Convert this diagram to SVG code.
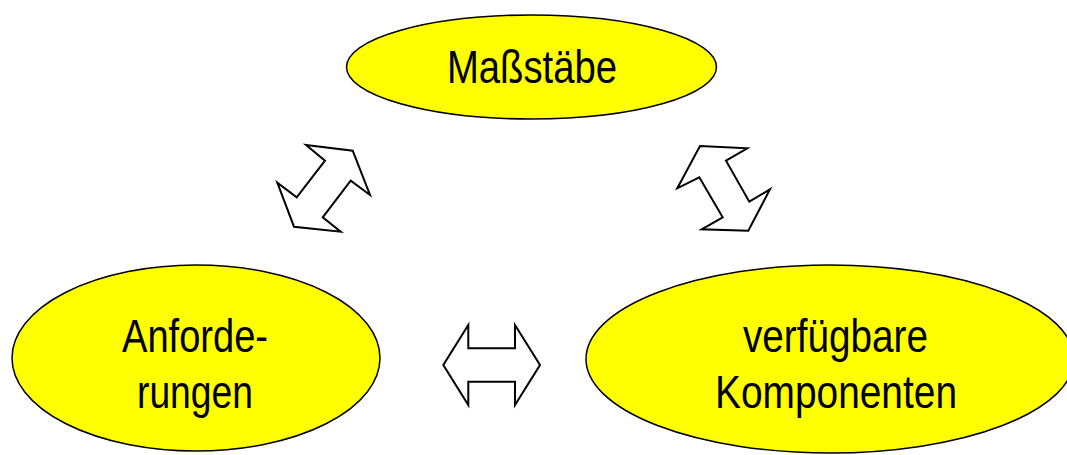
<svg xmlns="http://www.w3.org/2000/svg" width="1067" height="455" viewBox="0 0 1067 455">
<style>
.node{fill:#ffff00;stroke:#000;stroke-width:1.5}
.lbl{font-family:"Liberation Sans",Arial,sans-serif;font-size:46px;fill:#000;text-anchor:middle}
.arr{fill:#fff;stroke:#000;stroke-width:2;stroke-linejoin:miter}
</style>
<rect width="1067" height="455" fill="#fff"/>
<g id="masstaebe">
<ellipse class="node" cx="531.5" cy="67" rx="185" ry="52"/>
<text class="lbl" x="532" y="83" textLength="170" lengthAdjust="spacingAndGlyphs">Maßstäbe</text>
</g>
<g id="anforderungen">
<ellipse class="node" cx="196" cy="358" rx="184" ry="93"/>
<text class="lbl" x="195" y="352" textLength="146" lengthAdjust="spacingAndGlyphs">Anforde-</text>
<text class="lbl" x="195" y="408" textLength="116" lengthAdjust="spacingAndGlyphs">rungen</text>
</g>
<g id="komponenten">
<ellipse class="node" cx="830" cy="359" rx="244" ry="94"/>
<text class="lbl" x="835.5" y="352" textLength="185" lengthAdjust="spacingAndGlyphs">verfügbare</text>
<text class="lbl" x="836" y="408" textLength="242" lengthAdjust="spacingAndGlyphs">Komponenten</text>
</g>
<g id="connectors">
<polygon class="arr" points="306,145 352.7,150.7 370,195 350.7,180.7 322.7,217.3 340.7,231.7 294,226.7 277.3,182.7 296.7,197.3 325,160.7"/>
<polygon class="arr" points="700,146 747.3,148.3 726,160.7 749.3,201.7 770,189.3 748.3,230.7 701.7,229.3 722.7,217.3 699.3,177.3 677.3,188.3"/>
<polygon class="arr" points="468.3,325 468.3,348.3 515,348.3 515,325 540,365 515,405 515,381.7 468.3,381.7 468.3,405 443.3,365"/>
</g>
</svg>
